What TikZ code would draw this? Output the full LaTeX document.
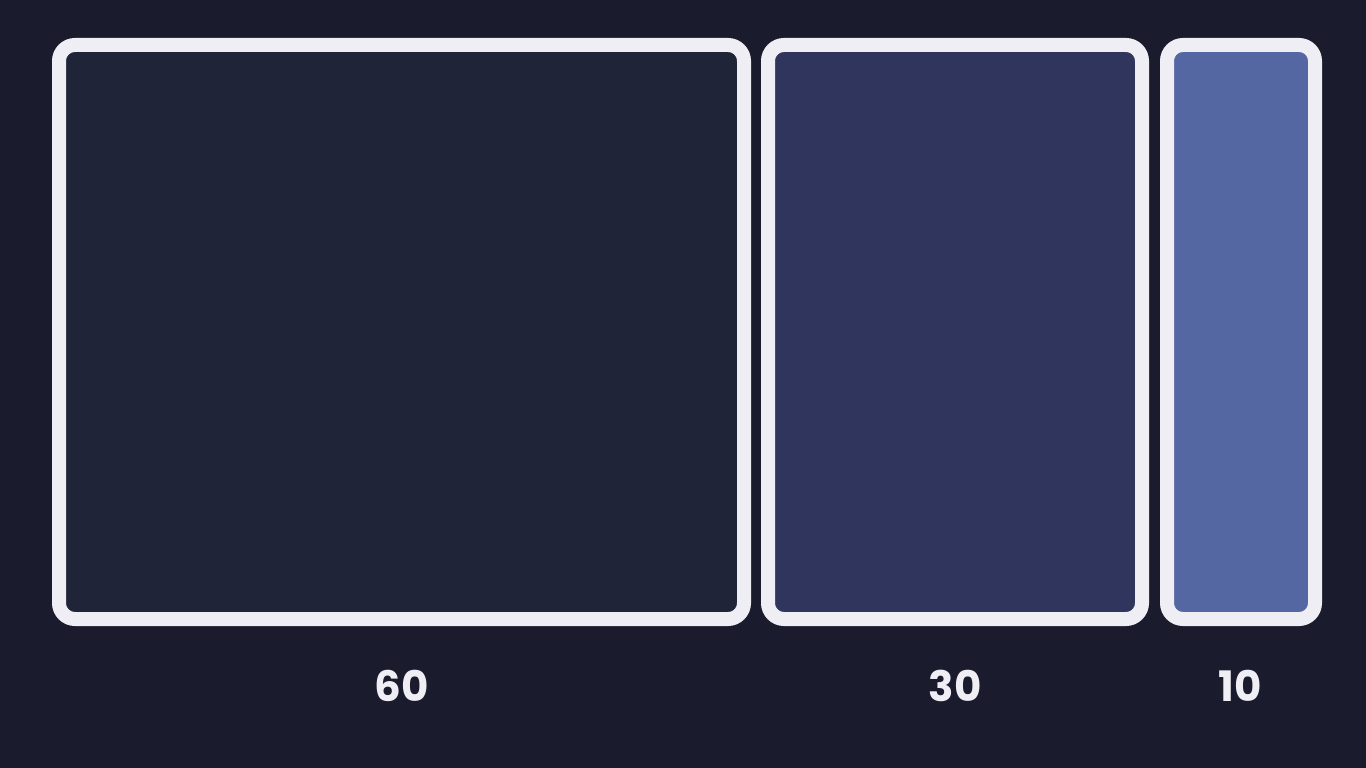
\documentclass[tikz,border=0pt]{standalone}
\usepackage{fontspec}
\setmainfont{Poppins}
\definecolor{bg}{HTML}{1A1B2D}
\definecolor{frame}{HTML}{F0EEF5}
\definecolor{fa}{HTML}{1F2438}
\definecolor{fb}{HTML}{30355E}
\definecolor{fc}{HTML}{5567A3}
\begin{document}
\begin{tikzpicture}[x=1pt,y=-1pt,
  block/.style={draw=frame,line width=14pt,rounded corners=16pt},
  lab/.style={text=frame,font=\fontsize{42}{48}\selectfont\bfseries,anchor=center,inner sep=0pt}]
\fill[bg] (0,0) rectangle (1366,768);
\useasboundingbox (0,0) rectangle (1366,768);
\draw[block,fill=fa] (59,45) rectangle (744,619);
\draw[block,fill=fb] (768,45) rectangle (1142,619);
\draw[block,fill=fc] (1167,45) rectangle (1315,619);
\node[lab] (la) at (401.5,686) {60};
\node[lab] (lb) at (955,686) {30};
\node[lab] (lc) at (1240,686) {10};
\end{tikzpicture}
\end{document}
